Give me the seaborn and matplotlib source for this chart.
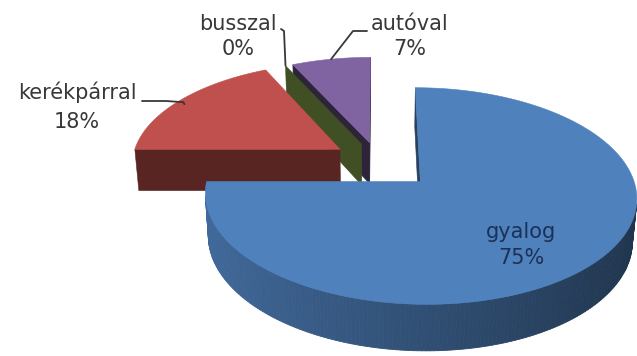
import numpy as np
import matplotlib
matplotlib.use("Agg")
import matplotlib.pyplot as plt
import seaborn as sns
from matplotlib.patches import Polygon
from matplotlib.colors import to_rgb

# ---------------- data ----------------
categories = ["gyalog", "kerékpárral", "busszal", "autóval"]
values = [75, 18, 0, 7]
pct_labels = ["75%", "18%", "0%", "7%"]

# ---------------- style ----------------
sns.set_theme(style="white")
plt.rcParams['font.family'] = ['DejaVu Sans']

top_colors = ["#4F81BD", "#C0504D", "#9BBB59", "#8064A2"]
explode = [0.28, 0.22, 0.19, 0.19]
face_shade = [0.50, 0.46, 0.42, 0.36]
start_angle = 0.0

W, HP = 637, 356
fig = plt.figure(figsize=(W / 100, HP / 100), dpi=100)
ax = fig.add_axes([0, 0, 1, 1])
ax.set_xlim(0, W)
ax.set_ylim(HP, 0)
ax.axis('off')

# ---------------- 3-D perspective pie ----------------
phi = np.radians(29)
sn, cs = np.sin(phi), np.cos(phi)
D = 6.7
F = 1395
X0, Y0 = 378, 161
TH = 0.233
cam = np.array([0.0, -D * cs, D * sn])


def proj(u, v, z):
    depth = D + v * cs - z * sn
    return X0 + F * u / depth, Y0 - F * (v * sn + z * cs) / depth


total = float(sum(values))
bounds = np.concatenate([[0], np.cumsum(values)]) / total * 360.0 + start_angle

slices = []
for i in range(len(values)):
    a0, a1 = bounds[i], bounds[i + 1]
    mid = np.radians((a0 + a1) / 2)
    cu, cv = explode[i] * np.sin(mid), explode[i] * np.cos(mid)
    slices.append((D + cv * cs, i, a0, a1, cu, cv))
slices.sort(reverse=True)


def shade(col, k):
    r, g, b = to_rgb(col)
    return (r * k, g * k, b * k)


def visible(n, p):
    return np.dot(n, cam - p) > 0


label_anchor = {}
for _, i, a0, a1, cu, cv in slices:
    col = top_colors[i]

    def gp(t, r=1.0):
        tr = np.radians(t)
        return cu + r * np.sin(tr), cv + r * np.cos(tr)

    # radial faces
    for ang, nang in ((a0, a0 - 90), (a1, a1 + 90)):
        ou, ov = gp(ang)
        n = np.array([np.sin(np.radians(nang)), np.cos(np.radians(nang)), 0])
        pm = np.array([(cu + ou) / 2, (cv + ov) / 2, -TH / 2])
        if visible(n, pm):
            pts = [proj(cu, cv, 0), proj(ou, ov, 0), proj(ou, ov, -TH), proj(cu, cv, -TH)]
            ax.add_patch(Polygon(pts, closed=True, fc=shade(col, face_shade[i]),
                                 ec=shade(col, face_shade[i]), lw=0.4))
    # outer wall
    if a1 > a0:
        ts = np.linspace(a0, a1, max(int(a1 - a0), 2) + 1)
        for t0, t1 in zip(ts[:-1], ts[1:]):
            tm = (t0 + t1) / 2
            n = np.array([np.sin(np.radians(tm)), np.cos(np.radians(tm)), 0])
            mu, mv = gp(tm)
            if visible(n, np.array([mu, mv, -TH / 2])):
                u0, v0 = gp(t0)
                u1, v1 = gp(t1)
                k = 0.61 - 0.21 * np.sin(np.radians(tm))
                cc = shade(col, k)
                pts = [proj(u0, v0, 0), proj(u1, v1, 0), proj(u1, v1, -TH), proj(u0, v0, -TH)]
                ax.add_patch(Polygon(pts, closed=True, fc=cc, ec=cc, lw=0.6))
        # top face
        ts = np.linspace(a0, a1, int(a1 - a0) * 2 + 2)
        pts = [proj(cu, cv, 0)] + [proj(*gp(t), 0) for t in ts]
        ax.add_patch(Polygon(pts, closed=True, fc=col, ec=col, lw=0.4))
    # anchors for leader lines
    label_anchor[i] = {"mid": proj(*gp((a0 + a1) / 2), 0), "start": proj(*gp(a0), 0)}

# ---------------- labels ----------------
lab = "#383838"
txt = dict(fontsize=15, color=lab, ha="center", va="center")
inner = {**txt, "color": "#1B3157"}
# gyalog
ax.text(521, 232, categories[0], **inner)
ax.text(521, 258, pct_labels[0], **inner)
# kerékpárral
ax.text(77, 92, categories[1], **txt)
ax.text(77, 122, pct_labels[1], **txt)
ex, ey = label_anchor[1]["mid"]
ax.plot([142, 166, ex + 3, ex + 4], [101, 101, ey + 2, ey + 4], color=lab, lw=1.3)
# busszal
ax.text(238, 24, categories[2], **txt)
ax.text(238, 49, pct_labels[2], **txt)
ex, ey = label_anchor[2]["start"]
ax.plot([281, 284, ex], [29, 31, ey], color=lab, lw=1.3)
# autóval
ax.text(410, 24, categories[3], **txt)
ax.text(410, 49, pct_labels[3], **txt)
ex, ey = label_anchor[3]["mid"]
ax.plot([367, 353, ex], [31, 31, ey], color=lab, lw=1.3)

fig.savefig("out.png", dpi=100, facecolor="white")
